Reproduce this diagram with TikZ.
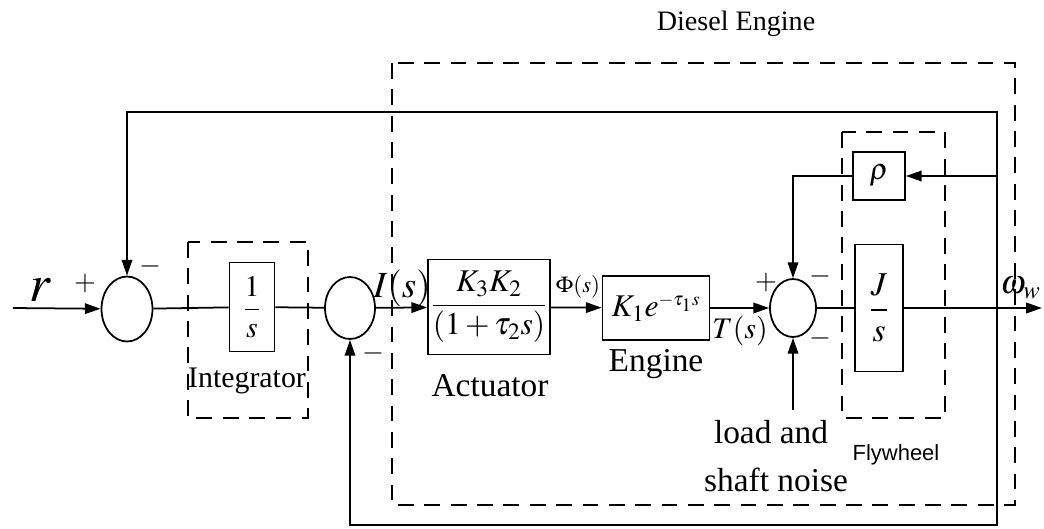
\documentclass[tikz,border=0pt]{standalone}
\usepackage{amsmath}
\usepackage{mathptmx}
\usepackage[no-math]{fontspec}
\setmainfont{Liberation Serif}
\newfontfamily\labelsans{Liberation Sans}
\usepackage{tikz}
\usetikzlibrary{arrows.meta,positioning,shapes.geometric,calc}
\tikzset{
  >={Triangle[length=9pt,width=6pt]},
  block/.style={rectangle,draw,line width=1pt,inner sep=0pt},
  sumnode/.style={ellipse,draw,line width=1pt,inner sep=0pt},
  edge/.style={->,line width=1pt},
  wire/.style={line width=1pt},
  frame/.style={line width=1pt,dash pattern=on 9pt off 6pt},
  caption/.style={font=\fontsize{19}{22}\selectfont,inner sep=1pt},
  sign/.style={font=\fontsize{16}{18}\selectfont,inner sep=0pt}
}

\begin{document}
\begin{tikzpicture}[x=0.02cm,y=-0.02cm]
  \useasboundingbox (0,0) rectangle (1044,528);

  % summing junctions
  \node[sumnode,minimum width=1.02cm,minimum height=1.3cm] (sumA) at (127,309) {};
  \node[sumnode,minimum width=1.0cm,minimum height=1.24cm] (sumB) at (350,308) {};
  \node[sumnode,minimum width=0.92cm,minimum height=1.16cm] (sumC) at (793,308) {};

  % blocks
  \node[block,minimum width=0.9cm,minimum height=1.78cm] (integ) at (252,307)
    {\fontsize{17}{20}\selectfont$\dfrac{1}{s}$};
  \node[block,minimum width=2.44cm,minimum height=1.9cm] (act) at (489,307)
    {\fontsize{18}{20}\selectfont$\dfrac{K_3K_2}{(1+\tau_2 s)}$};
  \node[block,minimum width=2.14cm,minimum height=1.28cm] (eng) at (656,308)
    {\fontsize{18}{20}\selectfont$K_1e^{\scriptscriptstyle -\tau_1 s}$};
  \node[block,minimum width=1.04cm,minimum height=0.96cm] (rho) at (879,176)
    {\fontsize{17}{20}\selectfont$\rho$};
  \node[block,minimum width=0.96cm,minimum height=2.54cm] (fly) at (879,308)
    {\fontsize{19}{22}\selectfont$\dfrac{J}{s}$};

  % dashed frames
  \draw[frame] (188,242) rectangle (308,418);
  \draw[frame] (842,132) rectangle (945,418);
  \draw[frame] (392,63) rectangle (1015,505);

  % end points
  \coordinate (rin) at (13,308);
  \coordinate (wout) at (1042,308);
  \coordinate (tap) at (997,308);
  \coordinate (load) at (793,410);

  % forward path
  \draw[edge] (rin) -- (sumA);
  \draw[wire] (sumA) -- (integ);
  \draw[wire] (integ) -- (sumB);
  \draw[edge] (sumB) -- (act);
  \draw[edge] (act) -- (eng);
  \draw[edge] (eng) -- (sumC);
  \draw[wire] (sumC) -- (fly);
  \draw[edge] (fly) -- (wout);

  % feedback paths
  \draw[edge] (tap) -- (997,112) -| (sumA.north);
  \draw[edge] (tap) -- (997,525) -| (sumB.south);
  \draw[edge] (997,176) -- (rho.east);
  \draw[edge] (rho.west) -| (sumC.north);
  \draw[edge] (load) -- (sumC.south);

  % signs and signals
  \node[font=\fontsize{30}{32}\selectfont] (rlab) at (40,290) {$r$};
  \node[sign] (pA) at (85,283) {$+$};
  \node[sign] (mA) at (150,266) {$-$};
  \node[sign] (mB) at (373,353) {$-$};
  \node[sign] (pC) at (766,282) {$+$};
  \node[sign] (mC1) at (820,276) {$-$};
  \node[sign] (mC2) at (820,338) {$-$};
  \node[font=\fontsize{21}{24}\selectfont,inner sep=0pt] (Ilab) at (402,288) {$I(s)$};
  \node[font=\fontsize{13}{15}\selectfont,inner sep=0pt] (Plab) at (578,287) {$\Phi(s)$};
  \node[font=\fontsize{17}{20}\selectfont,inner sep=0pt] (Tlab) at (740,331) {$T(s)$};
  \node[font=\fontsize{19}{22}\selectfont,inner sep=0pt,anchor=west] (wlab) at (1000,288) {$\omega_w$};

  % captions
  \node[caption,font=\fontsize{17}{20}\selectfont] (intlab) at (247,381) {Integrator};
  \node[caption] (actlab) at (490,386) {Actuator};
  \node[caption] (englab) at (656,364) {Engine};
  \node[caption] (loadlab) at (771,432) {load and};
  \node[caption] (noiselab) at (776,480) {shaft noise};
  \node[font=\labelsans\fontsize{12.5}{14}\selectfont] (flylab) at (896,455) {Flywheel};
  \node[font=\fontsize{16}{18}\selectfont] (dslab) at (736,24) {Diesel Engine};
\end{tikzpicture}
\end{document}
